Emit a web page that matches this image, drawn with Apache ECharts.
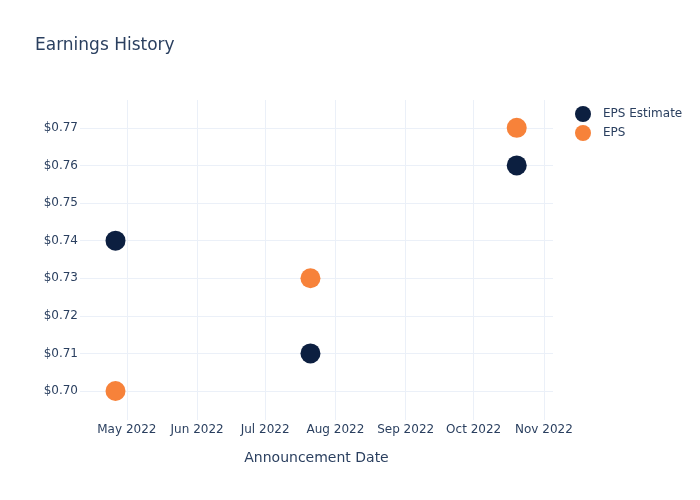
<!DOCTYPE html>
<html><head><meta charset="utf-8">
<script src="https://cdn.jsdelivr.net/npm/echarts@6/dist/echarts.min.js"></script>
<style>html,body{margin:0;padding:0;background:#fff}#c{width:700px;height:500px}</style>
</head><body><div id="c"></div>
<script>
const dates = ['2022-04-26', '2022-07-21', '2022-10-20'];
const epsEstimate = [0.74, 0.71, 0.76];
const eps = [0.70, 0.73, 0.77];
const yTicks = [0.70, 0.71, 0.72, 0.73, 0.74, 0.75, 0.76, 0.77];
const xTicks = ['2022-05-01', '2022-06-01', '2022-07-01', '2022-08-01', '2022-09-01', '2022-10-01', '2022-11-01'];
const monthNames = ['Jan','Feb','Mar','Apr','May','Jun','Jul','Aug','Sep','Oct','Nov','Dec'];

const toTs = s => { const p = s.split('-').map(Number); return Date.UTC(p[0], p[1]-1, p[2]); };
const font = 'DejaVu Sans';
const txt = '#2a3f5f';
const grid = '#ebf0f8';

const chart = echarts.init(document.getElementById('c'), null, {renderer: 'canvas'});
chart.setOption({
  backgroundColor: '#fff',
  animation: false,
  textStyle: {fontFamily: font},
  title: {text: 'Earnings History', left: 30, top: 32, textStyle: {fontFamily: font, fontSize: 17, fontWeight: 'normal', color: txt}},
  legend: {
    orient: 'vertical', left: 570, top: 101, itemWidth: 16, itemHeight: 16, itemGap: 3, icon: 'circle',
    textStyle: {fontFamily: font, fontSize: 12, color: txt, padding: [0, 0, 0, 7]}, data: ['EPS Estimate', 'EPS']
  },
  grid: {left: 80, top: 100, width: 473, height: 320, containLabel: false},
  xAxis: {
    type: 'value', min: toTs('2022-04-10') + 8*3600e3, max: toTs('2022-11-05'),
    name: 'Announcement Date', nameLocation: 'middle', nameGap: 31,
    nameTextStyle: {fontFamily: font, fontSize: 14, color: txt},
    axisLine: {show: false}, 
    axisTick: {show: false, customValues: xTicks.map(toTs)},
    axisLabel: {customValues: xTicks.map(toTs), fontFamily: font, fontSize: 12, color: txt, margin: 4,
      formatter: v => { const d = new Date(v); return monthNames[d.getUTCMonth()] + ' ' + d.getUTCFullYear(); }},
    splitLine: {show: true, lineStyle: {color: grid, width: 1}}
  },
  yAxis: {
    type: 'value', min: 0.6923, max: 0.7774,
    axisLine: {show: false},
    axisTick: {show: false, customValues: yTicks},
    axisLabel: {customValues: yTicks, fontFamily: font, fontSize: 12, color: txt, margin: 2,
      formatter: v => '$' + v.toFixed(2)},
    splitLine: {show: true, lineStyle: {color: grid, width: 1}}
  },
  series: [
    {name: 'EPS Estimate', type: 'scatter', symbolSize: 20, itemStyle: {color: '#0c1f40', opacity: 1},
      data: dates.map((d, i) => [toTs(d), epsEstimate[i]])},
    {name: 'EPS', type: 'scatter', symbolSize: 20, itemStyle: {color: '#f7823a', opacity: 1},
      data: dates.map((d, i) => [toTs(d), eps[i]])}
  ]
});
</script></body></html>
